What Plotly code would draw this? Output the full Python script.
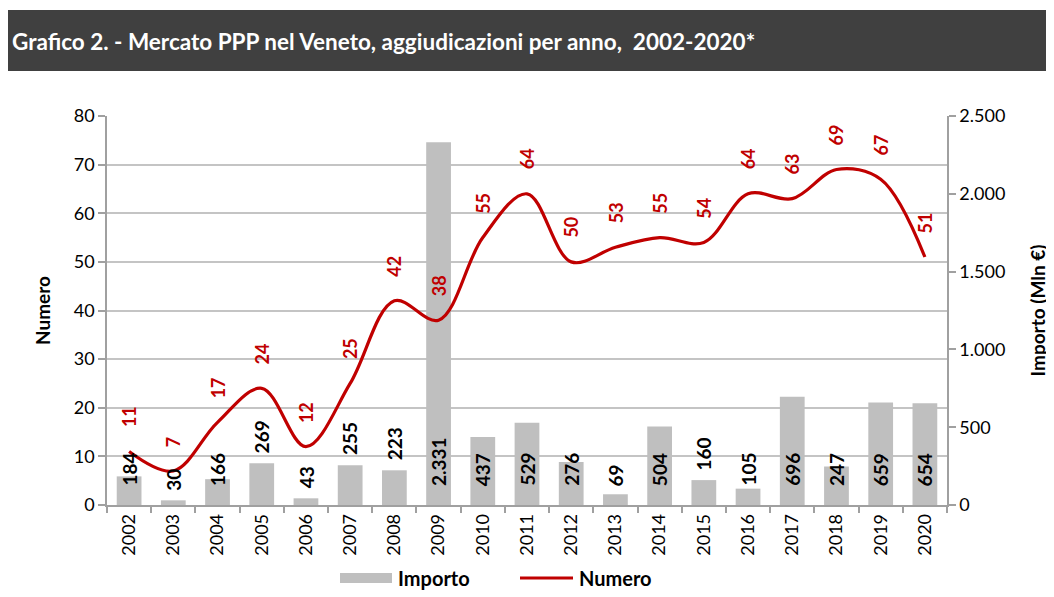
import plotly.graph_objects as go

# ---- data ----
anni = [str(y) for y in range(2002, 2021)]
importo = [184, 30, 166, 269, 43, 255, 223, 2331, 437, 529, 276, 69, 504, 160, 105, 696, 247, 659, 654]
numero = [11, 7, 17, 24, 12, 25, 42, 38, 55, 64, 50, 53, 55, 54, 64, 63, 69, 67, 51]
etichette_sopra = ["2003", "2005", "2006", "2007", "2008", "2015"]  # bar labels drawn above the bar

# ---- geometry helpers (target screen pixels -> paper); page has an 8px body margin ----
OFF = 8
W, H = 1054, 597
L, R, T, B = 107 - OFF, 947 - OFF, 116 - OFF, 505 - OFF
def px(x): return (x - OFF - L) / (R - L)
def py(y): return (B - (y - OFF)) / (B - T)

FONT = "Lato"
RED = "#C00000"
GREY_BAR = "#BFBFBF"
AXIS = "#A0A0A0"

def fmt(v):
    return f"{v:,}".replace(",", ".")

fig = go.Figure()
fig.add_trace(go.Bar(x=anni, y=importo, name="Importo", yaxis="y",
                     marker=dict(color=GREY_BAR, line=dict(width=0)), width=0.56,
                     showlegend=False, hoverinfo="x+y"))
fig.add_trace(go.Scatter(x=anni, y=numero, name="Numero", yaxis="y2", mode="lines",
                         line=dict(color=RED, width=3.2, shape="spline", smoothing=1.0),
                         showlegend=False))

ann = []
# line labels (x given as category index)
for i, v in enumerate(numero):
    ann.append(dict(x=i, y=v, xref="x", yref="y2", text=f"<b>{v}</b>", showarrow=False,
                    textangle=-90, yanchor="bottom", xanchor="center", yshift=22,
                    font=dict(family=FONT, size=18, color=RED)))
# bar labels
for i, (a, v) in enumerate(zip(anni, importo)):
    if a in etichette_sopra:
        ann.append(dict(x=i, y=v, xref="x", yref="y", text=f"<b>{fmt(v)}</b>", showarrow=False,
                        textangle=-90, yanchor="bottom", xanchor="center", yshift=8,
                        font=dict(family=FONT, size=19, color="black")))
    else:
        ann.append(dict(x=i, y=0, xref="x", yref="y", text=f"<b>{fmt(v)}</b>", showarrow=False,
                        textangle=-90, yanchor="bottom", xanchor="center", yshift=17,
                        font=dict(family=FONT, size=19, color="black")))
# title
ann.append(dict(x=px(10), y=py(42), xref="paper", yref="paper", xanchor="left", yanchor="middle",
                text="<b>Grafico 2. - Mercato PPP nel Veneto, aggiudicazioni per anno,  2002-2020*</b>",
                showarrow=False, font=dict(family=FONT, size=22.5, color="white")))
# manual legend
ann.append(dict(x=px(396), y=py(578), xref="paper", yref="paper", xanchor="left", yanchor="middle",
                text="<b>Importo</b>", showarrow=False, font=dict(family=FONT, size=20, color="black")))
ann.append(dict(x=px(577), y=py(578), xref="paper", yref="paper", xanchor="left", yanchor="middle",
                text="<b>Numero</b>", showarrow=False, font=dict(family=FONT, size=20, color="black")))

shapes = [
    dict(type="rect", xref="paper", yref="paper", x0=px(0), x1=px(1070), y0=py(71), y1=py(10),
         fillcolor="#404040", line=dict(width=0)),
    dict(type="rect", xref="paper", yref="paper", x0=px(340), x1=px(392), y0=py(583), y1=py(573),
         fillcolor=GREY_BAR, line=dict(width=0)),
    dict(type="line", xref="paper", yref="paper", x0=px(520), x1=px(573), y0=py(578), y1=py(578),
         line=dict(color=RED, width=3.2)),
]

fig.update_layout(
    width=W, height=H,
    margin=dict(l=L, r=W - R, t=T, b=H - B, autoexpand=False),
    paper_bgcolor="white", plot_bgcolor="white",
    separators=",.",
    font=dict(family=FONT, size=18, color="black"),
    xaxis=dict(type="category", range=[-0.5, len(anni) - 0.5], tickangle=-90, ticks="outside",
               tickson="boundaries", ticklen=6,
               tickcolor=AXIS, tickwidth=1.5, showline=True, linecolor=AXIS, linewidth=1.5,
               tickfont=dict(family=FONT, size=18, color="black"), showgrid=False),
    yaxis=dict(side="right", range=[0, 2500], dtick=500, tickformat=",d", showgrid=False,
               zeroline=False, ticks="outside", ticklen=7, tickcolor=AXIS, tickwidth=1.5,
               showline=True, linecolor=AXIS, linewidth=1.5,
               tickfont=dict(family=FONT, size=18, color="black"),
               title=dict(text="<b>Importo (Mln €)</b>", font=dict(family=FONT, size=19), standoff=27)),
    yaxis2=dict(overlaying="y", side="left", range=[0, 80], dtick=10, showgrid=True,
                gridcolor="#C4C4C4", gridwidth=1.5, zeroline=False, ticks="outside", ticklen=7,
                tickcolor=AXIS, tickwidth=1.5, showline=True, linecolor=AXIS, linewidth=1.5,
                tickfont=dict(family=FONT, size=18, color="black"),
                title=dict(text="<b>Numero</b>", font=dict(family=FONT, size=19), standoff=18)),
    annotations=ann, shapes=shapes,
)

fig.write_html("out.html")
